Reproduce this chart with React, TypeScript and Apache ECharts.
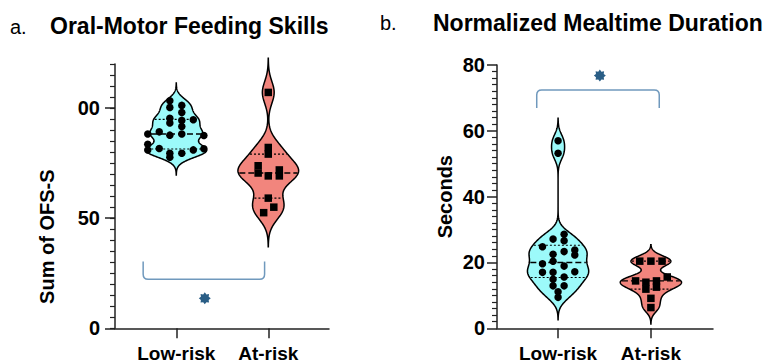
import React, { useEffect, useRef } from "react";
import * as echarts from "echarts";

const categories = ["Low-risk", "At-risk"];

// Panel a: Oral-Motor Feeding Skills (Sum of OFS-S)
const ofsLowRisk = [103.3, 101.2, 100.3, 98.0, 95.4, 94.4, 94.7, 93.2, 91.6, 89.2, 88.2, 87.7, 88.2, 87.5, 83.6, 81.6, 81.0, 81.5, 81.0, 79.5, 79.5, 77.7];
const ofsLowRiskJitter = [-0.07, 0.06, -0.07, 0.06, -0.07, 0.06, 0.185, -0.07, 0.06, -0.185, -0.31, -0.07, 0.06, 0.3, -0.31, -0.185, -0.31, 0.3, 0.185, 0.06, -0.07, -0.07];
const ofsAtRisk = [107.1, 82.1, 79.1, 73.8, 70.5, 71.9, 69.2, 69.2, 59.1, 55.0, 52.5];
const ofsAtRiskJitter = [0, 0, 0, -0.11, -0.11, 0.12, 0.12, 0, 0, 0.06, -0.05];

// Panel b: Normalized Mealtime Duration (seconds)
const durLowRisk = [57.0, 53.2, 28.6, 27.1, 26.6, 24.8, 23.8, 23.3, 22.5, 22.3, 19.6, 20.4, 18.9, 17.0, 17.0, 17.2, 14.9, 15.6, 12.9, 12.9, 11.1, 9.4];
const durLowRiskJitter = [0, 0, 0.065, -0.054, 0.065, -0.168, 0.18, 0.065, -0.054, 0.18, -0.168, -0.054, 0.065, -0.168, -0.054, 0.18, -0.054, 0.065, -0.054, 0.065, 0, 0];
const durAtRisk = [20.4, 20.4, 20.4, 15.6, 14.4, 14.0, 14.4, 11.9, 12.5, 9.1, 6.3];
const durAtRiskJitter = [-0.12, 0, 0.12, 0.176, -0.165, -0.054, 0.06, -0.054, 0.06, 0, 0];

const ofsTickValues = [0, 50, 100];
const ofsTickLabels = ["0", "50", "00"];
const durTickValues = [0, 20, 40, 60, 80];

// significance brackets: [from, to, arm end value, bar value]
const ofsBracket = [0.64, 1.96, 30.3, 22.3];
const ofsStar = [1.31, 13.6];
const durBracket = [0.77, 2.09, 66.9, 72.4];
const durStar = [1.45, 76.8];

const CYAN = "#9cfafa";
const SALMON = "#f2857d";
const AXIS = "#222";
const BRACKET = "#7099bd";
const STAR = "#2a5e86";
const FONT = "'Liberation Sans', Arial, Helvetica, sans-serif";
const HALF = 0.33;

function dens(values: number[], bw: number, y: number) {
  let s = 0;
  for (const v of values) s += Math.exp(-0.5 * ((y - v) / bw) ** 2);
  return s;
}
function profile(values: number[], bw: number) {
  const lo = Math.min(...values) - 3.1 * bw;
  const hi = Math.max(...values) + 3.1 * bw;
  const ys: number[] = [];
  const ds: number[] = [];
  const steps = 220;
  for (let i = 0; i <= steps; i++) {
    const y = lo + ((hi - lo) * i) / steps;
    ys.push(y);
    ds.push(dens(values, bw, y));
  }
  const m = Math.max(...ds);
  return { ys, ds: ds.map((d) => d / m), max: m };
}
function pct(values: number[], p: number) {
  const s = [...values].sort((a, b) => a - b);
  const n = s.length;
  const r = (n + 1) * p;
  const k = Math.floor(r);
  if (k < 1) return s[0];
  if (k >= n) return s[n - 1];
  return s[k - 1] + (r - k) * (s[k] - s[k - 1]);
}

type Group = { values: number[]; bw: number; fill: string };

function violinRender(groups: Group[]) {
  return (params: any, api: any) => {
    const g = groups[params.dataIndex];
    const c = params.dataIndex + 1;
    const prof = profile(g.values, g.bw);
    const right = prof.ys.map((y, i) => api.coord([c + HALF * prof.ds[i], y]));
    const left = prof.ys.map((y, i) => api.coord([c - HALF * prof.ds[i], y])).reverse();
    const lineAt = (y: number, dash: number[], w: number) => {
      const hw = (HALF * dens(g.values, g.bw, y)) / prof.max;
      const a = api.coord([c - hw, y]);
      const b = api.coord([c + hw, y]);
      return {
        type: "line",
        shape: { x1: a[0] + 1, y1: a[1], x2: b[0] - 1, y2: b[1] },
        style: { stroke: "#000", lineWidth: w, lineDash: dash },
      };
    };
    return {
      type: "group",
      children: [
        {
          type: "polygon",
          shape: { points: [...right, ...left] },
          style: { fill: g.fill, stroke: "#000", lineWidth: 1.5 },
        },
        lineAt(pct(g.values, 0.25), [2, 2], 1.1),
        lineAt(pct(g.values, 0.5), [6, 3], 1.4),
        lineAt(pct(g.values, 0.75), [2, 2], 1.1),
      ],
    };
  };
}

function bracketRender(b: number[]) {
  return (_params: any, api: any) => {
    const p1 = api.coord([b[0], b[2]]);
    const p2 = api.coord([b[0], b[3]]);
    const p3 = api.coord([b[1], b[3]]);
    const p4 = api.coord([b[1], b[2]]);
    const r = 5;
    const dir = p2[1] > p1[1] ? 1 : -1;
    const d =
      `M${p1[0]} ${p1[1]} L${p2[0]} ${p2[1] - dir * r} Q${p2[0]} ${p2[1]} ${p2[0] + r} ${p2[1]} ` +
      `L${p3[0] - r} ${p3[1]} Q${p3[0]} ${p3[1]} ${p3[0]} ${p3[1] - dir * r} L${p4[0]} ${p4[1]}`;
    return {
      type: "path",
      shape: { pathData: d },
      style: { fill: "none", stroke: BRACKET, lineWidth: 1.5 },
    };
  };
}

const starSymbol = (() => {
  let d = "";
  for (let i = 0; i < 16; i++) {
    const r = i % 2 === 0 ? 1 : 0.7;
    const a = (Math.PI * i) / 8 - Math.PI / 2;
    d += (i === 0 ? "M" : "L") + (r * Math.cos(a)).toFixed(3) + " " + (r * Math.sin(a)).toFixed(3) + " ";
  }
  return "path://" + d + "Z";
})();

const labelFont = { fontFamily: FONT, fontWeight: "bold" as const, color: "#000" };

function xAxisFor(grid: number, min: number, max: number) {
  return {
    gridIndex: grid,
    type: "value",
    min,
    max,
    axisLine: { show: true, onZero: false, lineStyle: { color: AXIS, width: 1.5 } },
    axisTick: { show: true, customValues: [1, 2], length: 10, lineStyle: { color: AXIS, width: 1.5 } },
    axisLabel: {
      show: true,
      customValues: [1, 2],
      formatter: (v: number) => categories[Math.round(v) - 1] ?? "",
      fontSize: 19,
      margin: 16,
      ...labelFont,
    },
    splitLine: { show: false },
  };
}

function dots(xi: number, yi: number, base: number, vals: number[], jit: number[], symbol: string) {
  return {
    type: "scatter",
    xAxisIndex: xi,
    yAxisIndex: yi,
    symbol,
    symbolSize: symbol === "rect" ? 7.5 : 7.5,
    itemStyle: { color: "#000", opacity: 1 },
    z: 3,
    data: vals.map((v, i) => [base + jit[i], v]),
  };
}

export default function App() {
  const ref = useRef<HTMLDivElement>(null);
  useEffect(() => {
    document.body.style.margin = "0";
    const chart = echarts.init(ref.current!, undefined, { renderer: "svg" });
    const option: any = {
      animation: false,
      backgroundColor: "#fff",
      grid: [
        { left: 115, top: 64, width: 214, height: 264.3, containLabel: false, outerBoundsMode: "none" },
        { left: 497, top: 65, width: 216, height: 263.3, containLabel: false, outerBoundsMode: "none" },
      ],
      xAxis: [xAxisFor(0, 0.334, 2.66), xAxisFor(1, 0.342, 2.669)],
      yAxis: [
        {
          gridIndex: 0,
          type: "value",
          position: "left",
          min: 0,
          max: 120,
          interval: 5,
          axisLine: { show: true, onZero: false, lineStyle: { color: AXIS, width: 1.5 } },
          axisTick: { show: true, length: 5, lineStyle: { color: AXIS, width: 1.2 } },
          axisLabel: { show: false },
          splitLine: { show: false },
        },
        {
          gridIndex: 0,
          type: "value",
          position: "left",
          min: 0,
          max: 120,
          axisLine: { show: false },
          axisTick: { show: true, customValues: ofsTickValues, length: 10, lineStyle: { color: AXIS, width: 1.5 } },
          axisLabel: {
            show: true,
            customValues: ofsTickValues,
            formatter: (v: number) => ofsTickLabels[ofsTickValues.indexOf(v)] ?? String(v),
            fontSize: 20,
            margin: 15,
            ...labelFont,
          },
          splitLine: { show: false },
        },
        {
          gridIndex: 1,
          type: "value",
          position: "left",
          min: 0,
          max: 80,
          interval: 20,
          axisLine: { show: true, onZero: false, lineStyle: { color: AXIS, width: 1.5 } },
          axisTick: { show: true, customValues: durTickValues, length: 10, lineStyle: { color: AXIS, width: 1.5 } },
          minorTick: { show: true, splitNumber: 10, length: 5, lineStyle: { color: AXIS, width: 1.2 } },
          axisLabel: { show: true, customValues: durTickValues, fontSize: 20, margin: 12, ...labelFont },
          splitLine: { show: false },
          minorSplitLine: { show: false },
        },
      ],
      graphic: [
        { type: "text", left: 10, top: 17, style: { text: "a.", font: `20px ${FONT}`, fill: "#000" } },
        { type: "text", left: 50, top: 14, style: { text: "Oral-Motor Feeding Skills", font: `bold 23px ${FONT}`, fill: "#000" } },
        { type: "text", left: 380, top: 13, style: { text: "b.", font: `20px ${FONT}`, fill: "#000" } },
        { type: "text", left: 433, top: 11, style: { text: "Normalized Mealtime Duration", font: `bold 23px ${FONT}`, fill: "#000" } },
        {
          type: "text",
          x: 46.7,
          y: 236.7,
          rotation: Math.PI / 2,
          style: { text: "Sum of OFS-S", font: `bold 20px ${FONT}`, fill: "#000", align: "center", verticalAlign: "middle" },
        },
        {
          type: "text",
          x: 445,
          y: 196.7,
          rotation: Math.PI / 2,
          style: { text: "Seconds", font: `bold 20px ${FONT}`, fill: "#000", align: "center", verticalAlign: "middle" },
        },
      ],
      series: [
        {
          type: "custom",
          xAxisIndex: 0,
          yAxisIndex: 0,
          data: [[1, 0], [2, 0]],
          encode: { x: 0, y: 1 },
          clip: false,
          z: 1,
          renderItem: violinRender([
            { values: ofsLowRisk, bw: 2.6, fill: CYAN },
            { values: ofsAtRisk, bw: 5, fill: SALMON },
          ]),
        },
        dots(0, 0, 1, ofsLowRisk, ofsLowRiskJitter, "circle"),
        dots(0, 0, 2, ofsAtRisk, ofsAtRiskJitter, "rect"),
        {
          type: "custom",
          xAxisIndex: 0,
          yAxisIndex: 0,
          data: [[ofsBracket[0], ofsBracket[3]]],
          encode: { x: 0, y: 1 },
          z: 2,
          renderItem: bracketRender(ofsBracket),
        },
        {
          type: "scatter",
          xAxisIndex: 0,
          yAxisIndex: 0,
          symbol: starSymbol,
          symbolSize: 12,
          itemStyle: { color: STAR, opacity: 1 },
          data: [ofsStar],
        },
        {
          type: "custom",
          xAxisIndex: 1,
          yAxisIndex: 2,
          data: [[1, 0], [2, 0]],
          encode: { x: 0, y: 1 },
          clip: false,
          z: 1,
          renderItem: violinRender([
            { values: durLowRisk, bw: 2.2, fill: CYAN },
            { values: durAtRisk, bw: 1.6, fill: SALMON },
          ]),
        },
        dots(1, 2, 1, durLowRisk, durLowRiskJitter, "circle"),
        dots(1, 2, 2, durAtRisk, durAtRiskJitter, "rect"),
        {
          type: "custom",
          xAxisIndex: 1,
          yAxisIndex: 2,
          data: [[durBracket[0], durBracket[3]]],
          encode: { x: 0, y: 1 },
          z: 2,
          renderItem: bracketRender(durBracket),
        },
        {
          type: "scatter",
          xAxisIndex: 1,
          yAxisIndex: 2,
          symbol: starSymbol,
          symbolSize: 12,
          itemStyle: { color: STAR, opacity: 1 },
          data: [durStar],
        },
      ],
    };
    chart.setOption(option);
    return () => chart.dispose();
  }, []);
  return <div ref={ref} style={{ width: 766, height: 364 }} />;
}
